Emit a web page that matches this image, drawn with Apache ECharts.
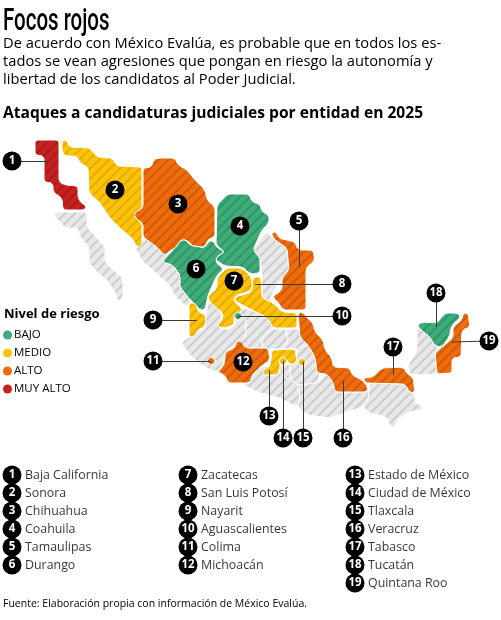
<!DOCTYPE html>
<html>
<head>
<meta charset="utf-8">
<style>html,body{margin:0;padding:0;background:#fff}#chart{width:501px;height:620px}</style>
<script src="https://cdn.jsdelivr.net/npm/echarts@6/dist/echarts.min.js"></script>
</head>
<body>
<div id="chart"></div>
<script>
// estados con nivel de riesgo, en el orden de la lista numerada
var stateNames = ['Baja California', 'Sonora', 'Chihuahua', 'Coahuila', 'Tamaulipas', 'Durango', 'Zacatecas', 'San Luis Potosí', 'Nayarit', 'Aguascalientes', 'Colima', 'Michoacán', 'Estado de México', 'Ciudad de México', 'Tlaxcala', 'Veracruz', 'Tabasco', 'Tucatán', 'Quintana Roo'];
var stateRisk = ['MUY ALTO', 'MEDIO', 'ALTO', 'BAJO', 'ALTO', 'BAJO', 'MEDIO', 'MEDIO', 'MEDIO', 'BAJO', 'ALTO', 'ALTO', 'MEDIO', 'MEDIO', 'MEDIO', 'ALTO', 'ALTO', 'BAJO', 'ALTO'];
var otherStates = ['Baja California Sur', 'Sinaloa', 'Nuevo León', 'Jalisco', 'Guanajuato', 'Querétaro', 'Hidalgo', 'Puebla', 'Morelos', 'Guerrero', 'Oaxaca', 'Chiapas', 'Campeche'];
var riskLevels = ['BAJO', 'MEDIO', 'ALTO', 'MUY ALTO'];

var riskColor = { 'BAJO': '#3fab78', 'MEDIO': '#fcc30b', 'ALTO': '#ee6c0c', 'MUY ALTO': '#c6211f', 'NONE': '#e8e8e8' };
var hatchColor = { 'BAJO': '#2f9468', 'MEDIO': '#e9a900', 'ALTO': '#d25a06', 'MUY ALTO': '#a91a1a', 'NONE': '#cccccc' };

// contornos de cada estado
var outlines = {
    'Baja California Sur': [[53,215],[58,212],[87,212],[87,227],[97,238],[105,247],[105,262],[113,270],[123,278],[123,298],[118,302],[115,292],[107,280],[98,273],[89,263],[89,247],[80,237],[78,228],[65,228],[60,222]],
    'Sinaloa': [[135,248],[145,238],[155,242],[168,255],[175,262],[183,275],[183,287],[192,300],[187,307],[180,301],[173,293],[168,283],[160,277],[153,270],[143,262]],
    'Nuevo León': [[253,250],[262,237],[267,231],[272,238],[278,242],[287,248],[289,270],[282,278],[270,297],[272,302],[262,302],[262,273],[260,258]],
    'Jalisco': [[181,343],[190,336],[197,331],[204,330],[206,315],[209,298],[222,314],[218,328],[228,330],[236,324],[236,312],[246,318],[246,336],[240,344],[226,350],[224,360],[222,366],[216,372],[207,368],[199,363],[190,355]],
    'Guanajuato': [[240,308],[252,310],[268,318],[274,330],[264,339],[270,349],[245,349],[238,345],[246,336],[246,318],[236,314]],
    'Querétaro': [[262,338],[272,329],[286,329],[289,340],[282,349],[262,349]],
    'Hidalgo': [[285,329],[299,329],[306,334],[312,347],[298,349],[282,349],[289,340]],
    'Puebla': [[298,347],[310,345],[318,358],[320,373],[318,385],[297,385],[288,381],[288,364],[296,364]],
    'Morelos': [[278,366],[290,364],[290,382],[278,379]],
    'Guerrero': [[243,385],[250,372],[262,365],[278,372],[289,380],[298,384],[301,400],[297,407],[277,397],[260,393]],
    'Oaxaca': [[297,385],[318,383],[328,372],[336,384],[336,390],[368,390],[371,398],[363,407],[343,413],[330,418],[308,415],[297,407],[301,400]],
    'Chiapas': [[370,381],[405,383],[408,392],[415,393],[415,403],[423,407],[422,410],[408,412],[397,420],[395,428],[390,427],[387,417],[370,413],[363,408],[368,400],[369,390]],
    'Campeche': [[417,327],[423,329],[432,338],[437,346],[437,374],[410,375],[408,365],[415,355],[417,348]],
    'Baja California': [[35,140],[59,140],[59,182],[65,185],[78,186],[78,198],[82,204],[87,206],[85,210],[63,210],[62,198],[53,192],[53,183],[44,182],[44,156],[35,155]],
    'Sonora': [[62,140],[67,140],[69,147],[90,148],[97,157],[112,158],[117,166],[142,167],[142,208],[134,213],[135,218],[142,223],[142,247],[137,247],[132,238],[122,230],[110,218],[100,203],[89,193],[88,167],[80,163],[77,156],[65,156],[62,152]],
    'Chihuahua': [[153,160],[158,158],[175,158],[178,165],[187,170],[195,180],[205,190],[207,200],[215,207],[215,237],[208,239],[205,247],[193,247],[190,242],[182,239],[177,247],[168,252],[165,256],[157,247],[143,237],[143,223],[135,218],[134,213],[143,208],[143,168],[152,167]],
    'Coahuila': [[217,205],[225,197],[228,194],[249,194],[252,202],[260,204],[262,212],[269,215],[269,223],[262,230],[253,250],[260,258],[260,273],[250,274],[243,267],[225,266],[216,260],[216,257],[225,252],[216,245]],
    'Tamaulipas': [[272,232],[277,232],[278,238],[295,242],[298,250],[313,250],[315,260],[306,268],[306,310],[283,310],[278,302],[272,297],[282,290],[282,278],[289,270],[287,248],[278,242],[272,237]],
    'Durango': [[162,262],[170,253],[178,245],[180,240],[187,240],[189,245],[205,248],[208,242],[213,240],[216,247],[225,252],[216,257],[216,263],[224,269],[217,275],[208,295],[205,310],[200,310],[188,297],[180,287],[180,275],[173,265]],
    'Zacatecas': [[217,278],[227,268],[242,268],[252,278],[252,290],[235,296],[233,300],[243,310],[233,317],[235,323],[227,328],[217,327],[223,318],[223,313],[213,305],[207,298],[217,288]],
    'San Luis Potosí': [[253,277],[261,277],[262,298],[273,303],[282,312],[297,313],[297,328],[273,328],[268,318],[252,310],[235,301],[235,297],[252,292]],
    'Nayarit': [[189,303],[196,303],[198,312],[206,315],[205,327],[197,330],[195,337],[189,337]],
    'Michoacán': [[225,352],[235,348],[237,340],[242,342],[245,348],[268,348],[270,360],[260,367],[252,375],[250,383],[228,383],[225,375],[217,372],[223,367],[225,360]],
    'Estado de México': [[272,350],[295,349],[297,362],[290,365],[285,358],[280,360],[280,367],[278,375],[263,375],[263,370],[270,367]],
    'Veracruz': [[298,313],[303,312],[307,318],[313,323],[315,332],[323,340],[325,350],[332,358],[333,367],[350,368],[352,375],[362,380],[368,387],[367,392],[335,392],[333,382],[327,374],[317,373],[315,357],[308,345],[300,337]],
    'Tabasco': [[363,378],[373,377],[382,368],[403,367],[408,375],[413,377],[415,392],[410,393],[405,384],[365,383]],
    'Tucatán': [[417,325],[423,322],[437,323],[445,313],[458,313],[461,317],[452,325],[449,337],[442,347],[435,346],[430,337],[420,329]],
    'Quintana Roo': [[463,313],[468,313],[470,327],[462,330],[461,357],[452,358],[452,373],[437,374],[435,353],[447,343],[453,338],[453,327],[462,320]],
    'Aguascalientes': [[234,312],[242,312],[242,320],[234,320]],
    'Colima': [[207,357],[215,357],[215,365],[207,365]],
    'Ciudad de México': [[279,357],[287,357],[287,365],[279,365]],
    'Tlaxcala': [[298,358],[306,358],[306,366],[298,366]]
};

// donde va cada circulo numerado y hasta donde llega su linea (null = sin linea)
var badgeAt = [[12,161],[115,190],[178,204],[240,226],[299,221],[196,269],[234,281],[342,284],[153,320],[342,316],[153,361],[243,362],[269,416],[283,438],[303,438],[343,438],[393,347],[436,293],[489,341]];
var leaderTo = [[50,161],null,null,null,[299,267],null,null,[255,284],[197,320],[238,316],[211,361],null,[269,370],[283,361],[303,362],[343,381],[393,375],[436,327],[452,342]];

// corta cada esquina a una distancia fija, el contorno no se encoge
function cutCorners(ring, d) {
    var out = [], n = ring.length;
    for (var i = 0; i < n; i++) {
        var p = ring[(i + n - 1) % n], c = ring[i], q = ring[(i + 1) % n];
        var l1 = Math.hypot(c[0] - p[0], c[1] - p[1]), l2 = Math.hypot(c[0] - q[0], c[1] - q[1]);
        var d1 = Math.min(d, l1 * 0.45), d2 = Math.min(d, l2 * 0.45);
        out.push([c[0] + (p[0] - c[0]) * d1 / l1, c[1] + (p[1] - c[1]) * d1 / l1]);
        out.push([c[0] + (q[0] - c[0]) * d2 / l2, c[1] + (q[1] - c[1]) * d2 / l2]);
    }
    return out;
}
function pt(p) { return [p[0], -p[1]]; }

var names = otherStates.concat(stateNames);
// los puntos chicos al final para que queden encima
var small = ['Aguascalientes', 'Colima', 'Ciudad de México', 'Tlaxcala'];
names = names.filter(function (n) { return small.indexOf(n) < 0; }).concat(small);

var features = names.map(function (n) {
    var first = small.indexOf(n) < 0 ? 2.2 : 3.4;
    var ring = cutCorners(cutCorners(outlines[n], first), 0.7).map(pt);
    ring.push(ring[0]);
    return { type: 'Feature', properties: { name: n }, geometry: { type: 'Polygon', coordinates: [ring] } };
});
echarts.registerMap('mexico', { type: 'FeatureCollection', features: features });

function hatch(level) {
    return { symbol: 'rect', symbolSize: 1, dashArrayX: [1, 0], dashArrayY: [1.5, 5], rotation: -Math.PI / 4, color: hatchColor[level], backgroundColor: riskColor[level] };
}
var regionData = names.map(function (n) {
    var i = stateNames.indexOf(n);
    var level = i < 0 ? 'NONE' : stateRisk[i];
    return { name: n, value: 1, itemStyle: { areaColor: riskColor[level], decal: hatch(level) } };
});

var badgeData = [], leaderData = [], listBadges = [], listNames = [];
var listX = [12, 188, 355], listTextX = [21, 197, 364];
stateNames.forEach(function (n, i) {
    var col = Math.min(Math.floor(i / 6), 2);
    var row = i - col * 6;
    var y = 475 + row * 18;
    badgeData.push({ name: String(i + 1), value: pt(badgeAt[i]) });
    if (leaderTo[i]) leaderData.push({ coords: [pt(badgeAt[i]), pt(leaderTo[i])] });
    listBadges.push({ name: String(i + 1), value: pt([listX[col], y]) });
    listNames.push({ name: n, value: pt([listTextX[col], y]) });
});

var badgeLabel = { show: true, position: 'inside', color: '#fff', fontFamily: 'Open Sans', fontWeight: 'bold', fontSize: 11.5, formatter: '{b}' };

var series = [{
    type: 'map',
    geoIndex: 0,
    silent: true,
    data: regionData
}, {
    type: 'lines',
    coordinateSystem: 'geo',
    silent: true,
    z: 3,
    lineStyle: { color: '#3a3a3a', width: 1, opacity: 1 },
    data: leaderData
}, {
    type: 'scatter',
    coordinateSystem: 'geo',
    silent: true,
    z: 4,
    symbolSize: 19,
    itemStyle: { color: '#000', opacity: 1 },
    label: badgeLabel,
    data: badgeData
}, {
    type: 'scatter',
    coordinateSystem: 'geo',
    silent: true,
    z: 4,
    symbolSize: 19,
    itemStyle: { color: '#000', opacity: 1 },
    label: badgeLabel,
    data: listBadges
}, {
    type: 'scatter',
    coordinateSystem: 'geo',
    silent: true,
    z: 4,
    symbolSize: 0,
    label: { show: true, position: 'right', distance: 4, color: '#000', fontFamily: 'Open Sans', fontSize: 12.4, formatter: '{b}' },
    data: listNames
}];
// series vacias solo para la leyenda
riskLevels.forEach(function (level) {
    series.push({ type: 'scatter', coordinateSystem: 'geo', name: level, data: [], itemStyle: { color: riskColor[level], opacity: 1 } });
});

var paragraph = [
    'De acuerdo con México Evalúa, es probable que en todos los es-',
    'tados se vean agresiones que pongan en riesgo la autonomía y',
    'libertad de los candidatos al Poder Judicial.'
];
var bodyFont = 'Open Sans';
var graphics = [{
    type: 'text', left: 3, top: 6, scaleX: 0.64,
    style: { text: 'Focos rojos', font: '500 32px Roboto', fill: '#000' }
}, {
    type: 'text', left: 3, top: 106,
    style: { text: 'Ataques a candidaturas judiciales por entidad en 2025', font: 'bold 15.6px "' + bodyFont + '"', fill: '#000' }
}, {
    type: 'text', left: 4, top: 308,
    style: { text: 'Nivel de riesgo', font: 'bold 13px "' + bodyFont + '"', fill: '#000' }
}, {
    type: 'text', left: 3, top: 599,
    style: { text: 'Fuente: Elaboración propia con información de México Evalúa.', font: '10.5px "' + bodyFont + '"', fill: '#000' }
}];
paragraph.forEach(function (line, i) {
    graphics.push({ type: 'text', left: 3, top: 36 + i * 18, style: { text: line, font: '14.7px "' + bodyFont + '"', fill: '#000' } });
});

var myChart = echarts.init(document.getElementById('chart'));
myChart.setOption({
    animation: false,
    backgroundColor: '#fff',
    geo: {
        map: 'mexico',
        silent: true,
        roam: false,
        left: 0, top: 0, width: 501, height: 620,
        aspectScale: 1,
        boundingCoords: [[0, 0], [501, -620]],
        label: { show: false },
        itemStyle: { areaColor: riskColor.NONE, borderColor: '#fff', borderWidth: 1 }
    },
    legend: {
        left: 3, top: 329,
        orient: 'vertical',
        icon: 'circle',
        itemWidth: 9, itemHeight: 9, itemGap: 6,
        padding: 0,
        selectedMode: false,
        textStyle: { color: '#000', fontFamily: bodyFont, fontSize: 11.5, padding: [0, 0, 0, -3] },
        data: riskLevels
    },
    graphic: graphics,
    series: series
});
</script>
</body>
</html>
